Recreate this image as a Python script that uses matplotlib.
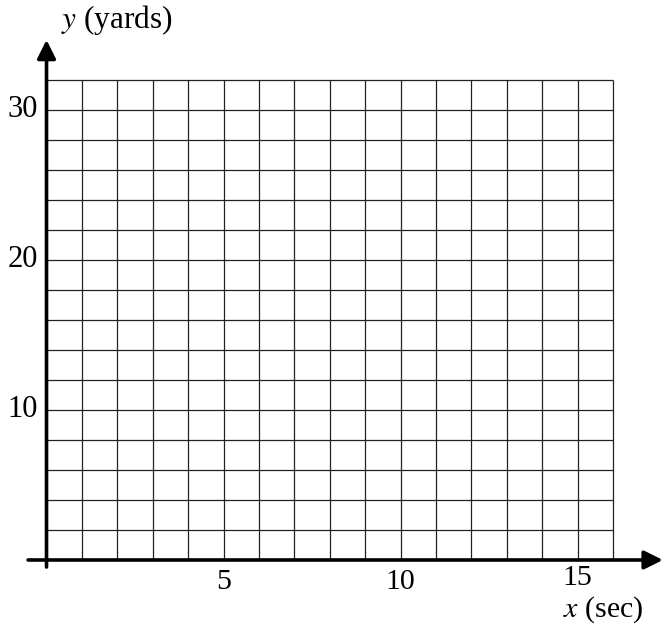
import numpy as np
import matplotlib
matplotlib.use('Agg')
import matplotlib.pyplot as plt

plt.rcParams['font.family'] = ['Liberation Serif', 'DejaVu Serif']
plt.rcParams['mathtext.fontset'] = 'stix'

# grid / axis data
x_max = 16
y_max = 32
y_step = 2
x_ticks = [5, 10, 15]
y_ticks = [10, 20, 30]
x_label = '$x$ (sec)'
y_label = '$y$ (yards)'

fig = plt.figure(figsize=(6.66, 6.24), dpi=100)
ax = fig.add_axes([0, 0, 1, 1])
ax.set_xlim(-1.314, 17.5)
ax.set_ylim(-4.267, 37.33)
ax.axis('off')

# grid lines
xs = np.arange(1, x_max + 1)
ys = np.arange(y_step, y_max + 1, y_step)
ax.vlines(xs, 0, y_max, color='#222222', lw=0.9)
ax.hlines(ys, 0, x_max, color='#222222', lw=0.9)

# axes with arrows
ax.annotate('', xy=(17.41, 0), xytext=(-0.52, 0),
            arrowprops=dict(arrowstyle='-|>', lw=2.6, color='black',
                            mutation_scale=28, shrinkA=0, shrinkB=0))
ax.annotate('', xy=(0, 34.67), xytext=(0, -0.47),
            arrowprops=dict(arrowstyle='-|>', lw=2.6, color='black',
                            mutation_scale=28, shrinkA=0, shrinkB=0))

# tick labels (the last one sits a little higher, as in the original)
for t in x_ticks:
    yb = -1.65 if t == x_ticks[-1] else -1.93
    ax.text(t, yb, str(t), ha='center', va='baseline', fontsize=21.5)
for t in y_ticks:
    ax.text(-0.25, t, str(t), ha='right', va='center', fontsize=22)

ax.text(2.0, 36.0, y_label, ha='center', va='center', fontsize=22.5)
ax.text(15.72, -3.8, x_label, ha='center', va='baseline', fontsize=21.5)

fig.savefig('out.png', dpi=100)
